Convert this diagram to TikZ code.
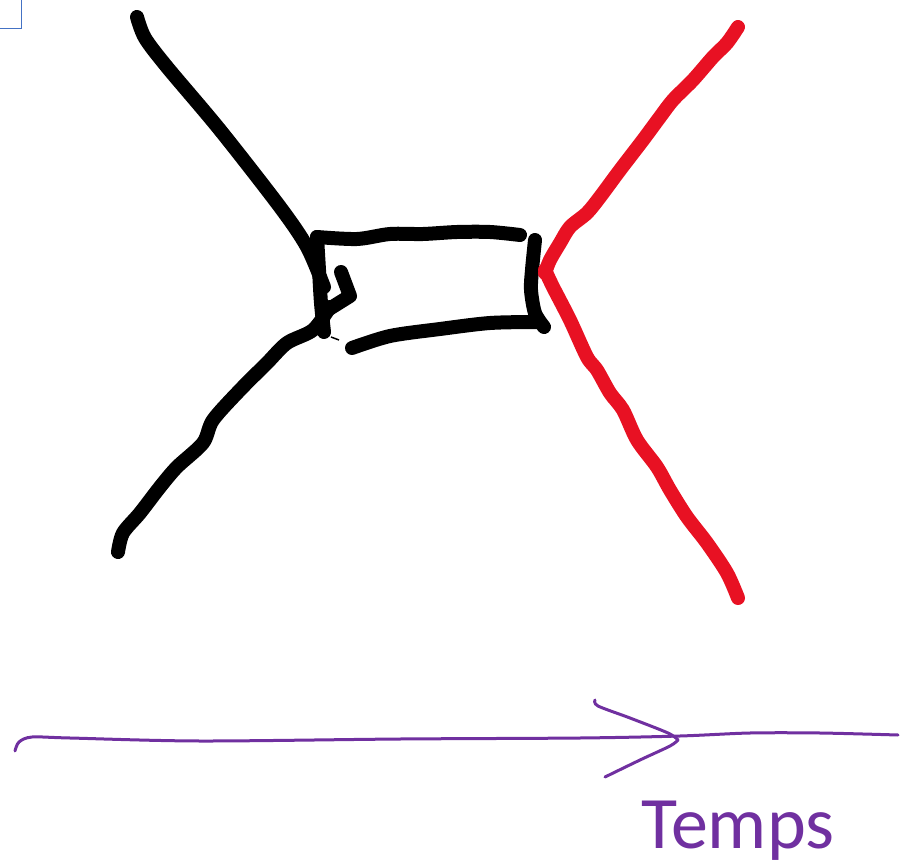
\documentclass[tikz,border=0pt]{standalone}
\usepackage{fontspec}
\setmainfont{Carlito}
\definecolor{inkred}{RGB}{232,17,35}
\definecolor{inkpurple}{RGB}{112,48,160}
\definecolor{selblue}{RGB}{68,114,196}

\begin{document}
\begin{tikzpicture}[x=1pt,y=-1pt,
  ink/.style={line width=14pt,line cap=round,line join=round},
  pen/.style={line width=3pt,line cap=round,line join=round,inkpurple}]
\useasboundingbox (0,0) rectangle (910,866);
% selection corner
\draw[selblue,line width=1.5pt] (-5,28.5) -- (21.5,28.5) -- (21.5,-5);
% black lines and box
\draw[ink] plot[smooth,tension=0.5] coordinates {(137,17) (145,38) (167,67) (220,130) (280,207) (307,247) (324,287)};
\draw[ink] plot[smooth,tension=0.5] coordinates {(317,237) (319,270) (321,303) (324,332)};
\draw[ink] (341,272) -- (350,296) -- (326,311);
\draw[ink] plot[smooth,tension=0.5] coordinates {(330,307) (313,330) (287,343) (267,363) (240,390) (213,420) (203,443) (177,467) (160,487) (140,513) (123,533) (118,552)};
\draw[line width=1.5pt] (331,337) -- (339,340);
\draw[ink] plot[smooth,tension=0.5] coordinates {(317,237) (357,239) (390,234) (423,234) (457,232) (490,232) (520,235)};
\draw[ink] plot[smooth,tension=0.5] coordinates {(535,240) (532,270) (531,290) (535,313) (544,327)};
\draw[ink] plot[smooth,tension=0.5] coordinates {(537,322) (490,323) (440,329) (390,336) (352,348)};
% red lines
\draw[ink,inkred] plot[smooth,tension=0.5] coordinates {(738,27) (727,43) (713,57) (693,80) (673,100) (660,117) (643,140) (620,170) (600,197) (587,213) (570,227) (560,243) (550,260) (545,273)};
\draw[ink,inkred] plot[smooth,tension=0.5] coordinates {(545,270) (553,287) (570,320) (587,357) (597,370) (610,393) (623,410) (637,440) (657,467) (670,490) (687,517) (707,543) (727,573) (738,598)};
% time axis
\draw[pen] plot[smooth,tension=0.5] coordinates {(15,751) (19,742) (32,737) (70,738) (200,741) (400,739) (580,738) (680,736) (750,733) (820,733) (898,735)};
\draw[pen] plot[smooth,tension=0.5] coordinates {(595,700) (598,706) (630,718) (668,733) (678,740)};
\draw[pen] plot[smooth,tension=0.5] coordinates {(678,740) (670,746) (640,760) (605,777)};
\node[inkpurple,font=\fontsize{74}{82}\selectfont,anchor=base] (temps) at (738,848) {Temps};
\end{tikzpicture}
\end{document}
